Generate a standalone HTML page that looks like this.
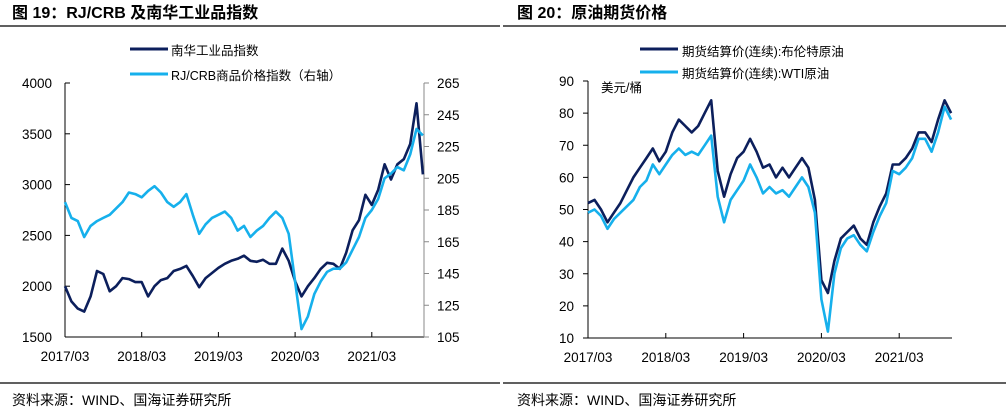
<!DOCTYPE html>
<html><head><meta charset="utf-8"><style>
body{margin:0;background:#fff;}
svg{display:block;font-family:"Liberation Sans","Noto Sans CJK SC",sans-serif;}
</style></head><body>
<svg id="s" width="1006" height="415" viewBox="0 0 1006 415" xmlns="http://www.w3.org/2000/svg">
<g>
<text x="12" y="18" font-size="16" font-weight="bold">图 19：RJ/CRB 及南华工业品指数</text>
<line x1="0" y1="26" x2="500" y2="26" stroke="#000" stroke-width="1.2"/>
<line x1="0" y1="383" x2="500" y2="383" stroke="#000" stroke-width="1.2"/>
<text x="12" y="405" font-size="14">资料来源：WIND、国海证券研究所</text>
<line x1="130" y1="49" x2="168" y2="49" stroke="#0c1f5c" stroke-width="3"/>
<text x="171" y="55" font-size="12.5">南华工业品指数</text>
<line x1="130" y1="74" x2="168" y2="74" stroke="#16b0ec" stroke-width="3"/>
<text x="171" y="80" font-size="12.5">RJ/CRB商品价格指数（右轴）</text>
<g id="L"></g>
</g>
<g>
<text x="517" y="18" font-size="16" font-weight="bold">图 20：原油期货价格</text>
<line x1="503" y1="26" x2="1006" y2="26" stroke="#000" stroke-width="1.2"/>
<line x1="503" y1="383" x2="1006" y2="383" stroke="#000" stroke-width="1.2"/>
<text x="517" y="405" font-size="14">资料来源：WIND、国海证券研究所</text>
<line x1="640" y1="49" x2="678" y2="49" stroke="#0c1f5c" stroke-width="3"/>
<text x="682" y="56" font-size="12.5">期货结算价(连续):布伦特原油</text>
<line x1="640" y1="72" x2="678" y2="72" stroke="#16b0ec" stroke-width="3"/>
<text x="682" y="78" font-size="12.5">期货结算价(连续):WTI原油</text>
<text x="601" y="92" font-size="12.5">美元/桶</text>
<g id="R"></g>
</g>
</svg>
<script>
const xLabels=["2017/03","2018/03","2019/03","2020/03","2021/03"];
const nanhua=[2000,1850,1780,1750,1900,2150,2120,1950,2000,2080,2070,2040,2040,1900,2000,2060,2080,2150,2170,2200,2100,1990,2080,2130,2180,2220,2250,2270,2300,2250,2240,2260,2220,2220,2370,2250,2050,1900,2000,2080,2170,2230,2220,2170,2330,2550,2650,2900,2800,2950,3200,3050,3200,3250,3400,3800,3100];
const rjcrb=[190,180,178,168,175,178,180,182,186,190,196,195,193,197,200,196,190,187,190,195,182,170,176,180,182,184,180,172,175,168,172,175,180,184,180,170,140,110,118,132,140,146,148,148,152,160,168,180,185,192,205,208,212,210,220,236,232];
const leftTicks=[1500,2000,2500,3000,3500,4000];
const rightTicks=[105,125,145,165,185,205,225,245,265];
const brent=[52,53,50,46,49,52,56,60,63,66,69,65,68,74,78,76,74,76,80,84,62,54,61,66,68,72,68,63,64,60,63,60,63,66,63,53,28,24,34,41,43,45,41,39,46,51,55,64,64,66,69,74,74,71,78,84,80];
const wti=[49,50,48,44,47,49,51,53,57,59,64,61,64,67,69,67,68,67,70,73,54,46,53,56,59,64,60,55,57,55,56,54,57,60,57,49,22,12,30,38,41,42,39,37,43,48,52,62,61,63,66,72,72,68,74,82,78];
const oilTicks=[10,20,30,40,50,60,70,80,90];
const NS="http://www.w3.org/2000/svg";
function mk(p,t,a){const e=document.createElementNS(NS,t);for(const k in a)e.setAttribute(k,a[k]);p.appendChild(e);return e;}
function path(g,xs,ys,vals,col){let d="";vals.forEach((v,i)=>{d+=(i?"L":"M")+xs(i).toFixed(1)+","+ys(v).toFixed(1);});
const p=mk(g,"path",{d:d,fill:"none",stroke:col,"stroke-width":2.6,"stroke-linejoin":"round"});return p;}
// Left
(function(){const g=document.getElementById("L");
const x0=65,yr=76.7,x=i=>x0+i*yr/12;
const yl=v=>337-(v-1500)*254/2500, yr2=v=>337-(v-105)*254/160;
mk(g,"line",{x1:65,y1:83,x2:65,y2:337,stroke:"#000","stroke-width":1});
mk(g,"line",{x1:65,y1:337,x2:424,y2:337,stroke:"#000","stroke-width":1});
mk(g,"line",{x1:424,y1:83,x2:424,y2:337,stroke:"#888","stroke-width":1});
leftTicks.forEach(v=>{mk(g,"line",{x1:65,y1:yl(v),x2:70,y2:yl(v),stroke:"#000"});const t=mk(g,"text",{x:52,y:yl(v)+5,"font-size":13.5,"text-anchor":"end"});t.textContent=v;

});
rightTicks.forEach(v=>{mk(g,"line",{x1:424,y1:yr2(v),x2:429,y2:yr2(v),stroke:"#888"});const t=mk(g,"text",{x:437,y:yr2(v)+5,"font-size":13.5});t.textContent=v;

});
xLabels.forEach((l,i)=>{const xx=x(i*12);mk(g,"line",{x1:xx,y1:332,x2:xx,y2:337,stroke:"#000"});const t=mk(g,"text",{x:xx,y:361,"font-size":13.5,"text-anchor":"middle"});t.textContent=l;

});
const p1=path(g,x,yl,nanhua,"#0c1f5c");


const p2=path(g,x,yr2,rjcrb,"#16b0ec");


})();
// Right
(function(){const g=document.getElementById("R");
const x0=588,yr=77.8,x=i=>x0+i*yr/12;
const y=v=>338-(v-10)*257/80;
mk(g,"line",{x1:588,y1:81,x2:588,y2:338,stroke:"#000","stroke-width":1});
mk(g,"line",{x1:588,y1:338,x2:952,y2:338,stroke:"#000","stroke-width":1});
oilTicks.forEach(v=>{mk(g,"line",{x1:583,y1:y(v),x2:588,y2:y(v),stroke:"#000"});const t=mk(g,"text",{x:574,y:y(v)+5,"font-size":13.5,"text-anchor":"end"});t.textContent=v;

});
xLabels.forEach((l,i)=>{const xx=x(i*12);mk(g,"line",{x1:xx,y1:333,x2:xx,y2:338,stroke:"#000"});const t=mk(g,"text",{x:xx,y:362,"font-size":13.5,"text-anchor":"middle"});t.textContent=l;

});
const p1=path(g,x,y,brent,"#0c1f5c");


const p2=path(g,x,y,wti,"#16b0ec");


})();
</script>
</body></html>
